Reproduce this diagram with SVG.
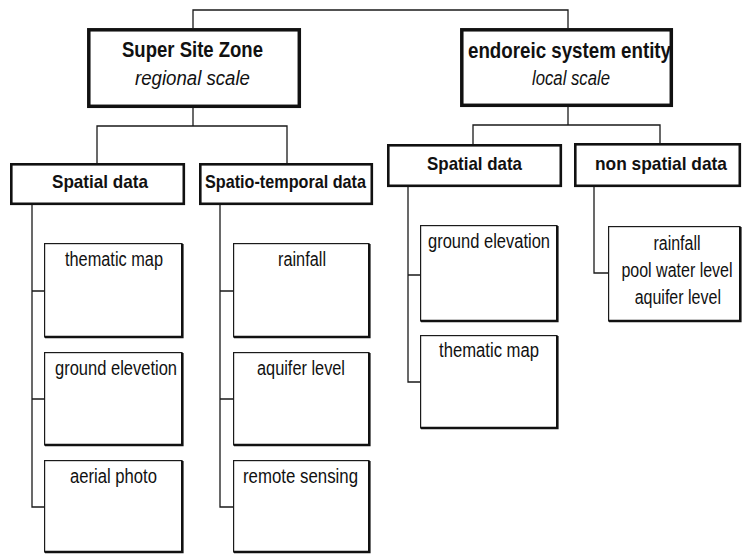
<svg xmlns="http://www.w3.org/2000/svg" width="742" height="554" viewBox="0 0 742 554">
<style>
text{font-family:"Liberation Sans",Arial,sans-serif;fill:#111;text-anchor:middle}
.h{font-size:22px;font-weight:bold}
.hi{font-size:20px;font-style:italic}
.m{font-size:19px;font-weight:bold}
.c{font-size:20px}
.big{fill:#fff;stroke:#111;stroke-width:3.5}
.mid{fill:#fff;stroke:#111;stroke-width:2.6}
.leaf{fill:#fff;stroke:#1a1a1a;stroke-width:1.2}
.sh{fill:none;stroke:#111;stroke-width:2.6}
.conn path{fill:none;stroke:#1a1a1a;stroke-width:1.3}
</style>
<rect width="742" height="554" fill="#fff"/>
<g class="conn" id="connectors">
<path d="M193 28V10H568V28"/>
<path d="M193 108V126"/>
<path d="M97 163V126H287V163"/>
<path d="M568 107V125"/>
<path d="M473 145V125H660V143"/>
<path d="M32 205V507H44M32 291H44M32 399H44"/>
<path d="M220 205V507H233M220 291H233M220 399H233"/>
<path d="M408 187V382H420M408 275H420"/>
<path d="M594 187V273H608"/>
</g>
<g id="super-site-zone">
<rect class="big" x="88.8" y="29.8" width="210.5" height="76.5"/>
<text class="h" x="192.5" y="57" textLength="141" lengthAdjust="spacingAndGlyphs">Super Site Zone</text>
<text class="hi" x="192.5" y="85" textLength="115" lengthAdjust="spacingAndGlyphs">regional scale</text>
</g>
<g id="endoreic-system-entity">
<rect class="big" x="461.8" y="29.8" width="209.5" height="75.5"/>
<text class="h" x="569.5" y="58" textLength="203" lengthAdjust="spacingAndGlyphs">endoreic system entity</text>
<text class="hi" x="571" y="85" textLength="78" lengthAdjust="spacingAndGlyphs">local scale</text>
</g>
<g id="ssz-spatial-data">
<rect class="mid" x="11.3" y="164.3" width="172.5" height="39.5"/>
<text class="m" x="100" y="188" textLength="96" lengthAdjust="spacingAndGlyphs">Spatial data</text>
</g>
<g id="ssz-spatio-temporal-data">
<rect class="mid" x="200.3" y="164.3" width="171.5" height="39.5"/>
<text class="m" x="285.5" y="188" textLength="161" lengthAdjust="spacingAndGlyphs">Spatio-temporal data</text>
</g>
<g id="ese-spatial-data">
<rect class="mid" x="388.3" y="145.3" width="172.5" height="40.5"/>
<text class="m" x="474.5" y="170" textLength="95" lengthAdjust="spacingAndGlyphs">Spatial data</text>
</g>
<g id="ese-non-spatial-data">
<rect class="mid" x="575.3" y="144.3" width="164.5" height="41.5"/>
<text class="m" x="661" y="170" textLength="132" lengthAdjust="spacingAndGlyphs">non spatial data</text>
</g>
<g id="ssz-thematic-map">
<rect class="leaf" x="44.6" y="243.6" width="137.4" height="93.4"/>
<path class="sh" d="M45 337H182.3V244"/>
<text class="c" x="114" y="266" textLength="98" lengthAdjust="spacingAndGlyphs">thematic map</text>
</g>
<g id="ssz-ground-elevetion">
<rect class="leaf" x="44.6" y="352.6" width="137.4" height="92.4"/>
<path class="sh" d="M45 445H182.3V353"/>
<text class="c" x="116" y="375" textLength="122" lengthAdjust="spacingAndGlyphs">ground elevetion</text>
</g>
<g id="ssz-aerial-photo">
<rect class="leaf" x="44.6" y="460.6" width="137.4" height="91.4"/>
<path class="sh" d="M45 552H182.3V461"/>
<text class="c" x="113.5" y="483" textLength="87" lengthAdjust="spacingAndGlyphs">aerial photo</text>
</g>
<g id="ssz-rainfall">
<rect class="leaf" x="233.6" y="243.6" width="135.4" height="93.4"/>
<path class="sh" d="M234 337H369.3V244"/>
<text class="c" x="302" y="266" textLength="48" lengthAdjust="spacingAndGlyphs">rainfall</text>
</g>
<g id="ssz-aquifer-level">
<rect class="leaf" x="233.6" y="352.6" width="135.4" height="92.4"/>
<path class="sh" d="M234 445H369.3V353"/>
<text class="c" x="301" y="375" textLength="88" lengthAdjust="spacingAndGlyphs">aquifer level</text>
</g>
<g id="ssz-remote-sensing">
<rect class="leaf" x="233.6" y="460.6" width="135.4" height="91.4"/>
<path class="sh" d="M234 552H369.3V461"/>
<text class="c" x="300.5" y="483" textLength="115" lengthAdjust="spacingAndGlyphs">remote sensing</text>
</g>
<g id="ese-ground-elevation">
<rect class="leaf" x="420.6" y="225.6" width="136.4" height="95.4"/>
<path class="sh" d="M421 321H557.3V226"/>
<text class="c" x="489" y="248" textLength="122" lengthAdjust="spacingAndGlyphs">ground elevation</text>
</g>
<g id="ese-thematic-map">
<rect class="leaf" x="420.6" y="335.6" width="136.4" height="92.4"/>
<path class="sh" d="M421 428H557.3V336"/>
<text class="c" x="489" y="357" textLength="100" lengthAdjust="spacingAndGlyphs">thematic map</text>
</g>
<g id="ese-non-spatial-items">
<rect class="leaf" x="608.6" y="226.6" width="131.4" height="94.4"/>
<path class="sh" d="M609 321H740.3V227"/>
<g transform="translate(677 0) scale(0.8 1)">
<text class="c" x="0" y="250">rainfall</text>
<text class="c" x="0" y="277">pool water level</text>
<text class="c" x="1" y="304">aquifer level</text>
</g>
</g>
</svg>
